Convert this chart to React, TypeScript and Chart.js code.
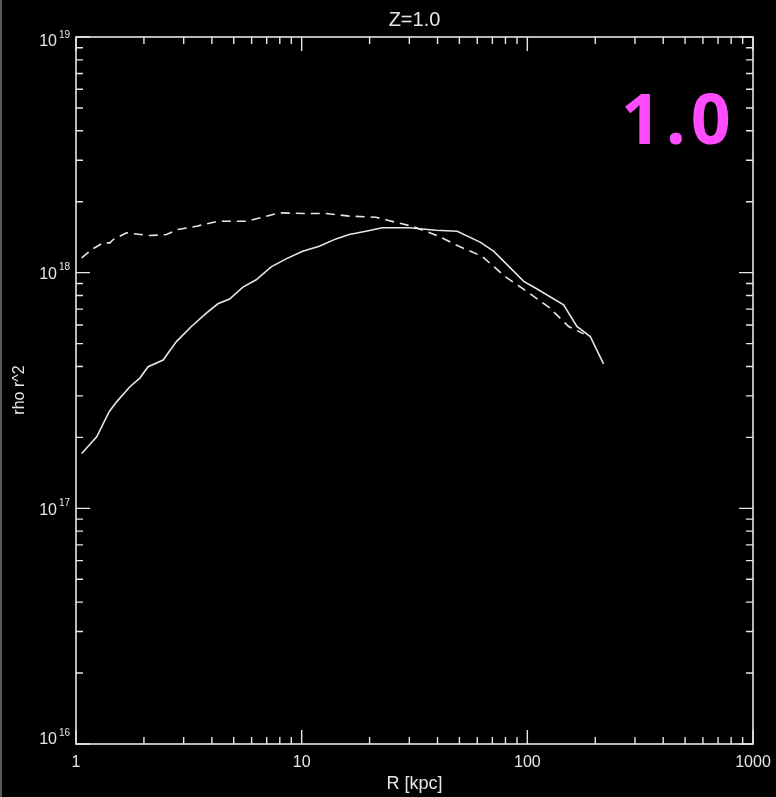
import React, { useEffect, useRef } from "react";
import { Chart, registerables } from "chart.js";

Chart.register(...registerables);

// Radius [kpc]
const solidR = [1.06, 1.235, 1.403, 1.513, 1.733, 1.918, 2.087, 2.432, 2.786, 3.246, 3.781, 4.255, 4.793, 5.488, 6.288, 7.324, 8.53, 10.1, 11.97, 14.19, 16.25, 19.26, 22.8, 29.92, 39.26, 48.9, 62.05, 71.05, 96.4, 106.7, 144.8, 165.8, 190.0, 217.6];
const solidRho = [1.71e17, 2.01e17, 2.57e17, 2.83e17, 3.28e17, 3.57e17, 3.99e17, 4.26e17, 5.1e17, 5.91e17, 6.74e17, 7.38e17, 7.73e17, 8.69e17, 9.33e17, 1.058e18, 1.144e18, 1.232e18, 1.294e18, 1.391e18, 1.451e18, 1.499e18, 1.55e18, 1.55e18, 1.514e18, 1.499e18, 1.345e18, 1.232e18, 9.18e17, 8.69e17, 7.31e17, 5.91e17, 5.36e17, 4.1e17];

const dashedR = [1.06, 1.173, 1.32, 1.413, 1.462, 1.675, 2.123, 2.517, 2.832, 3.415, 4.255, 5.68, 6.725, 7.97, 10.1, 12.82, 16.25, 21.32, 23.99, 26.57, 30.94, 39.9, 49.78, 63.07, 80.03, 98.1, 124.3, 152.4, 177.5];
const dashedRho = [1.155e18, 1.253e18, 1.338e18, 1.338e18, 1.382e18, 1.475e18, 1.437e18, 1.451e18, 1.524e18, 1.574e18, 1.653e18, 1.653e18, 1.719e18, 1.795e18, 1.783e18, 1.783e18, 1.737e18, 1.719e18, 1.67e18, 1.628e18, 1.574e18, 1.437e18, 1.294e18, 1.173e18, 9.59e17, 8.41e17, 7.15e17, 5.91e17, 5.5e17];

const xTickValues = [1, 10, 100, 1000];
const xTickLabels = ["1", "10", "100", "1000"];
const yTickValues = [1e16, 1e17, 1e18, 1e19];
const yTickExponents = ["16", "17", "18", "19"];

const titleText = "Z=1.0";
const xTitle = "R [kpc]";
const yTitle = "rho r^2";
const bigLabel = "1.0";

const FG = "#e6e6e6";
const FONT = "'Liberation Sans', 'DejaVu Sans', sans-serif";

const framePlugin = {
  id: "idlFrame",
  afterDraw(chart: any) {
    const { ctx, chartArea: a, scales } = chart;
    const xs = scales.x;
    const ys = scales.y;
    ctx.save();
    ctx.strokeStyle = "#5a5a5a";
    ctx.lineWidth = 2;
    ctx.beginPath();
    ctx.moveTo(1, 0);
    ctx.lineTo(1, chart.height);
    ctx.stroke();

    ctx.strokeStyle = FG;
    ctx.lineWidth = 1.6;
    ctx.strokeRect(a.left, a.top, a.right - a.left, a.bottom - a.top);

    const MAJ = 14;
    const MIN = 7;
    ctx.lineWidth = 1.4;
    ctx.beginPath();
    for (let d = 1; d < 1000; d *= 10) {
      for (let m = 1; m <= 10; m++) {
        const px = xs.getPixelForValue(d * m);
        const len = m === 1 || m === 10 ? MAJ : MIN;
        ctx.moveTo(px, a.bottom);
        ctx.lineTo(px, a.bottom - len);
        ctx.moveTo(px, a.top);
        ctx.lineTo(px, a.top + len);
      }
    }
    for (let d = 1e16; d < 1e19 * 0.99; d *= 10) {
      for (let m = 1; m <= 10; m++) {
        const py = ys.getPixelForValue(d * m);
        const len = m === 1 || m === 10 ? MAJ : MIN;
        ctx.moveTo(a.left, py);
        ctx.lineTo(a.left + len, py);
        ctx.moveTo(a.right, py);
        ctx.lineTo(a.right - len, py);
      }
    }
    ctx.stroke();

    ctx.fillStyle = FG;
    ctx.font = `16px ${FONT}`;
    ctx.textAlign = "center";
    ctx.textBaseline = "middle";
    xTickValues.forEach((v, i) => {
      ctx.fillText(xTickLabels[i], xs.getPixelForValue(v), a.bottom + 19);
    });
    yTickValues.forEach((v, i) => {
      let py = ys.getPixelForValue(v) + 2;
      py = Math.max(a.top + 5, Math.min(a.bottom - 4, py));
      ctx.font = `16px ${FONT}`;
      ctx.textAlign = "right";
      ctx.textBaseline = "middle";
      ctx.fillText("10", a.left - 19, py);
      ctx.font = `10px ${FONT}`;
      ctx.textAlign = "left";
      ctx.fillText(yTickExponents[i], a.left - 17, py - 7);
    });
    ctx.font = `20px ${FONT}`;
    ctx.textAlign = "center";
    ctx.textBaseline = "middle";
    const cx = (a.left + a.right) / 2;
    ctx.fillText(titleText, cx, 20);
    ctx.font = `18px ${FONT}`;
    ctx.fillText(xTitle, cx, 784);
    ctx.save();
    ctx.translate(20, 390);
    ctx.rotate(-Math.PI / 2);
    ctx.font = `16px ${FONT}`;
    ctx.fillText(yTitle, 0, 0);
    ctx.restore();

    ctx.fillStyle = "#ff4cff";
    ctx.font = `bold 70px 'Noto Sans', 'DejaVu Sans', sans-serif`;
    try {
      (ctx as any).letterSpacing = "5px";
    } catch (e) {}
    ctx.textAlign = "left";
    ctx.textBaseline = "alphabetic";
    ctx.fillText(bigLabel, 621, 144);
    ctx.restore();
  },
};

export default function App() {
  const ref = useRef<HTMLCanvasElement | null>(null);
  useEffect(() => {
    document.body.style.margin = "0";
    document.body.style.background = "#000";
    const canvas = ref.current;
    if (!canvas) return;
    const chart = new Chart(canvas, {
      type: "line",
      data: {
        datasets: [
          {
            label: "solid",
            data: solidR.map((r, i) => ({ x: r, y: solidRho[i] })),
            borderColor: FG,
            borderWidth: 1.6,
            pointRadius: 0,
            tension: 0,
            fill: false,
          },
          {
            label: "dashed",
            data: dashedR.map((r, i) => ({ x: r, y: dashedRho[i] })),
            borderColor: FG,
            borderWidth: 1.6,
            borderDash: [9, 6],
            pointRadius: 0,
            tension: 0,
            fill: false,
          },
        ],
      },
      options: {
        animation: false,
        responsive: false,
        maintainAspectRatio: false,
        layout: { padding: { left: 76, right: 23, top: 37, bottom: 53 } },
        plugins: { legend: { display: false }, tooltip: { enabled: false }, title: { display: false } },
        scales: {
          x: { type: "logarithmic", min: 1, max: 1000, display: false },
          y: { type: "logarithmic", min: 1e16, max: 1e19, display: false },
        },
      },
      plugins: [framePlugin],
    });
    return () => chart.destroy();
  }, []);
  return (
    <div style={{ width: 776, height: 797, background: "#000" }}>
      <canvas ref={ref} width={776} height={797} style={{ display: "block" }} />
    </div>
  );
}
